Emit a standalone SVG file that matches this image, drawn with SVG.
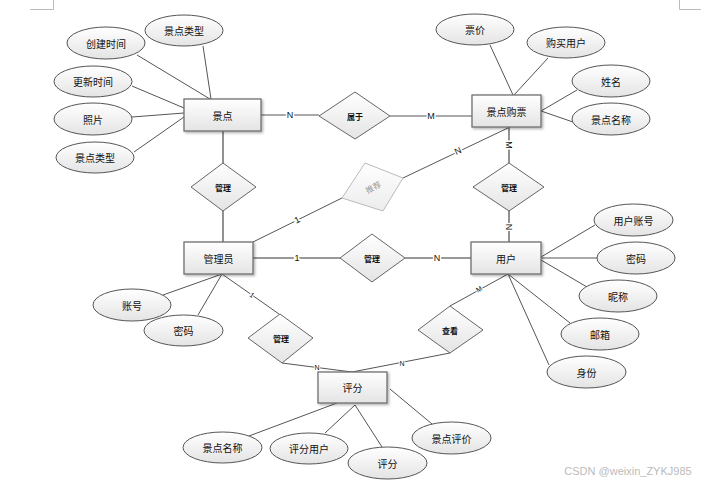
<svg xmlns="http://www.w3.org/2000/svg" width="715" height="484" viewBox="0 0 715 484">
<defs>
<linearGradient id="g" x1="0" y1="0" x2="0" y2="1"><stop offset="0" stop-color="#ffffff"/><stop offset="1" stop-color="#e4e4e4"/></linearGradient>
<linearGradient id="gl" x1="0" y1="0" x2="0" y2="1"><stop offset="0" stop-color="#ffffff"/><stop offset="1" stop-color="#ececec"/></linearGradient>
<filter id="sh" x="-10%" y="-10%" width="130%" height="140%"><feDropShadow dx="1.5" dy="1.5" stdDeviation="1" flood-color="#000" flood-opacity="0.3"/></filter>
</defs>
<style>
.ent{fill:url(#g);stroke:#6f6f6f;stroke-width:1.3;filter:url(#sh)}
.att{fill:url(#g);stroke:#555;stroke-width:1}
.rel{fill:url(#g);stroke:#666;stroke-width:1}
.ln{stroke:#555;stroke-width:1;fill:none}
.lg{stroke:#777;stroke-width:1.6;fill:none}
text{font-family:"Noto Sans CJK SC","Liberation Sans",sans-serif;text-anchor:middle;dominant-baseline:central;fill:#111}
.t{font-size:10px}
.tr{font-size:8px;font-weight:bold}
.lb{font-family:"Liberation Sans",sans-serif;font-size:9px;stroke:#fff;stroke-width:3;paint-order:stroke}
.ls{font-family:"Liberation Sans",sans-serif;font-size:7px;stroke:#fff;stroke-width:2;paint-order:stroke}
.mark{stroke:#bbb;stroke-width:1;fill:none}
</style>
<rect width="715" height="484" fill="#fff"/>
<path class="mark" d="M30 9.5H53.5V0M701 9.5H679.5V0"/>
<g id="connectors">
<path class="ln" d="M203 46L211 99M137 55L210 99M132 86L184 108M132 117L184 113M134 152L184 117"/>
<path class="ln" d="M490 45L513 95M548 58L514 95M577 90L541 111M541 111L573 122"/>
<path class="ln" d="M163 295L222 274M198 315L222 274"/>
<path class="ln" d="M595 225L541 257M541 258L597 258M541 260L587 287M508 274L570 323M508 274L549 365"/>
<path class="ln" d="M249 436L337 403M325 433L355 405M382 447L355 405M432 424L390 389"/>
<path class="ln" d="M261 115H319M390 116H472"/>
<path class="lg" d="M223 131V163M223 211V242"/>
<path class="lg" d="M509 127V163M509 211V242"/>
<path class="lg" d="M253 258H340M405 258H471"/>
<path class="ln" d="M253 242L342 198M403 178L510 127"/>
<path class="ln" d="M222 274L279 314M282 363L352 372M450 353L352 372M450 306L508 274"/>
<text class="lb" x="290" y="115">N</text>
<text class="lb" x="431" y="116">M</text>
<text class="lb" transform="translate(509 145) rotate(90)">M</text>
<text class="lb" transform="translate(509 227) rotate(90)">N</text>
<text class="lb" x="297" y="258">1</text>
<text class="lb" x="437" y="258">N</text>
<text class="lb" transform="translate(297 220) rotate(-27)">1</text>
<text class="lb" transform="translate(458 151) rotate(-25)">N</text>
<text class="ls" transform="translate(252 295) rotate(35)">1</text>
<text class="ls" transform="translate(479 289) rotate(-30)">M</text>
<text class="ls" x="317" y="367">N</text>
<text class="ls" x="402" y="363">N</text>
</g>
<g id="n-jingdian"><rect class="ent" x="184" y="99" width="77" height="32"/><text class="t" x="222.5" y="115">景点</text></g>
<g id="n-goupiao"><rect class="ent" x="472" y="95" width="69" height="32"/><text class="t" x="506.5" y="111">景点购票</text></g>
<g id="n-guanliyuan"><rect class="ent" x="184" y="242" width="69" height="32"/><text class="t" x="218.5" y="258">管理员</text></g>
<g id="n-yonghu"><rect class="ent" x="471" y="242" width="70" height="32"/><text class="t" x="506" y="258">用户</text></g>
<g id="n-pingfen"><rect class="ent" x="318" y="372" width="69" height="31"/><text class="t" x="352.5" y="387.5">评分</text></g>
<g id="r-shuyu"><polygon class="rel" points="355,92 390,116 355,139 319,116"/><text class="tr" x="355" y="116">属于</text></g>
<g id="r-guanli1"><polygon class="rel" points="223,163 256,187 223,211 191,187"/><text class="tr" x="223" y="187">管理</text></g>
<g id="r-tuijian"><polygon points="365,163 403,178 383,211 342,198" fill="url(#gl)" stroke="#bbb" stroke-width="1"/><text x="373" y="187" transform="rotate(-28 373 187)" style="font-size:8px;fill:#999">推荐</text></g>
<g id="r-guanli2"><polygon class="rel" points="509,163 544,187 509,211 473,187"/><text class="tr" x="509" y="187">管理</text></g>
<g id="r-guanli3"><polygon class="rel" points="372,234 405,258 372,282 340,258"/><text class="tr" x="372" y="258">管理</text></g>
<g id="r-guanli4"><polygon class="rel" points="280,314 313,338 282,363 248,338"/><text class="tr" x="281" y="338">管理</text></g>
<g id="r-chakan"><polygon class="rel" points="450,306 483,330 450,353 418,330"/><text class="tr" x="450" y="330">查看</text></g>
<g id="a-leixing1"><ellipse class="att" cx="184" cy="30.5" rx="39" ry="15.5"/><text class="t" x="184" y="30.5">景点类型</text></g>
<g id="a-chuangjian"><ellipse class="att" cx="106" cy="43" rx="39" ry="16"/><text class="t" x="106" y="43">创建时间</text></g>
<g id="a-gengxin"><ellipse class="att" cx="93" cy="81.5" rx="39" ry="15.5"/><text class="t" x="93" y="81.5">更新时间</text></g>
<g id="a-zhaopian"><ellipse class="att" cx="93" cy="119" rx="39" ry="16"/><text class="t" x="93" y="119">照片</text></g>
<g id="a-leixing2"><ellipse class="att" cx="95" cy="157.5" rx="39" ry="15.5"/><text class="t" x="95" y="157.5">景点类型</text></g>
<g id="a-piaojia"><ellipse class="att" cx="475" cy="29.5" rx="39" ry="15.5"/><text class="t" x="475" y="29.5">票价</text></g>
<g id="a-goumai"><ellipse class="att" cx="566" cy="42.5" rx="39" ry="15.5"/><text class="t" x="566" y="42.5">购买用户</text></g>
<g id="a-xingming"><ellipse class="att" cx="611" cy="81" rx="39" ry="16"/><text class="t" x="611" y="81">姓名</text></g>
<g id="a-mingcheng1"><ellipse class="att" cx="611" cy="119" rx="39" ry="16"/><text class="t" x="611" y="119">景点名称</text></g>
<g id="a-zhanghao"><ellipse class="att" cx="132" cy="305" rx="39" ry="16"/><text class="t" x="132" y="305">账号</text></g>
<g id="a-mima1"><ellipse class="att" cx="183.5" cy="330.5" rx="39.5" ry="15.5"/><text class="t" x="183.5" y="330.5">密码</text></g>
<g id="a-yhzh"><ellipse class="att" cx="633.5" cy="220" rx="39.5" ry="16"/><text class="t" x="633.5" y="220">用户账号</text></g>
<g id="a-mima2"><ellipse class="att" cx="636" cy="258" rx="39" ry="16"/><text class="t" x="636" y="258">密码</text></g>
<g id="a-nicheng"><ellipse class="att" cx="618" cy="296" rx="39" ry="16"/><text class="t" x="618" y="296">昵称</text></g>
<g id="a-youxiang"><ellipse class="att" cx="600" cy="334" rx="39" ry="16"/><text class="t" x="600" y="334">邮箱</text></g>
<g id="a-shenfen"><ellipse class="att" cx="586.5" cy="372" rx="39.5" ry="16"/><text class="t" x="586.5" y="372">身份</text></g>
<g id="a-mingcheng2"><ellipse class="att" cx="222.5" cy="447.5" rx="39.5" ry="15.5"/><text class="t" x="222.5" y="447.5">景点名称</text></g>
<g id="a-pfyh"><ellipse class="att" cx="309" cy="448.5" rx="39" ry="15.5"/><text class="t" x="309" y="448.5">评分用户</text></g>
<g id="a-pingfen"><ellipse class="att" cx="387.5" cy="463" rx="39.5" ry="16"/><text class="t" x="387.5" y="463">评分</text></g>
<g id="a-pingjia"><ellipse class="att" cx="451.5" cy="438" rx="39.5" ry="16"/><text class="t" x="451.5" y="438">景点评价</text></g>
<text x="628" y="471" style="font-family:'Liberation Sans',sans-serif;font-size:11px;fill:#bbb">CSDN @weixin_ZYKJ985</text>
</svg>
